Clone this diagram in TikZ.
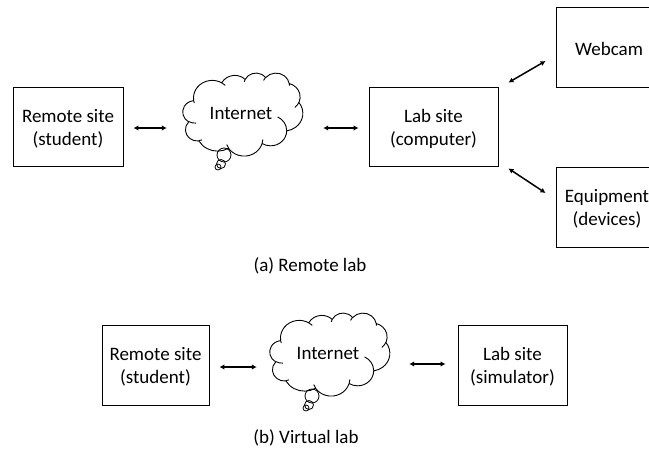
\documentclass[tikz,border=0pt]{standalone}
\usepackage{fontspec}
\setmainfont{Carlito}
\usetikzlibrary{arrows.meta}

% one elliptic arc of the cloud outline: x radius, y radius,
% start angle and sweep, the angles measured as seen from the centre
\newcommand\carc[4]{arc[x radius=#1, y radius=#2,
  start angle={atan2((#1)*sin(#3),(#2)*cos(#3))},
  delta angle={mod(atan2((#1)*sin((#3)+(#4)),(#2)*cos((#3)+(#4)))-atan2((#1)*sin(#3),(#2)*cos(#3))+720,360)}]}

% cloud outline with its creases, filling the frame of node #1
% (frame drawn on a 432 x 432 grid, y pointing down)
\newcommand\cloudshape[1]{%
  \begin{scope}[shift={(#1.north west)}, x=0.27778pt, y=-0.19213pt,
                line width=0.9pt, line join=round]
    \draw (39,143.70) \carc{67.53}{91.90}{-190.487}{123.781}
      \carc{53.33}{72.67}{-144.102}{89.945}
      \carc{43.65}{59.45}{-145.808}{99.723}
      \carc{48.57}{65.95}{-130.986}{117.242}
      \carc{53.33}{72.73}{-78.709}{109.027}
      \carc{67.75}{92.20}{-46.267}{130.269}
      \carc{57.85}{78.67}{0.625}{114.033}
      \carc{67.52}{92.15}{22.452}{115.173}
      \carc{77.20}{105.43}{66.243}{75.711}
      \carc{43.60}{59.18}{-274.942}{146.736}
      \carc{43.45}{59.45}{-246.829}{152.519} -- cycle;
    \draw (46.93,261.77) \carc{43.45}{59.45}{86.742}{26.430}
      (69.28,348.99) \carc{43.60}{59.18}{73.610}{11.447}
      (164.78,390.90) \carc{67.52}{92.15}{137.624}{14.081}
      (288.27,347.51) \carc{67.52}{92.15}{6.453}{15.998}
      (341.29,229.54) \carc{57.85}{78.67}{-70.292}{70.917}
      (417.98,153.54) \carc{53.33}{72.73}{30.318}{27.752}
      (383.24,54.26) \carc{48.57}{65.95}{-13.744}{14.859}
      (290.78,39.52) \carc{48.57}{65.95}{-149.181}{18.195}
      (221.41,47.20) \carc{43.65}{59.45}{-163.494}{17.686}
      (140.00,51.92) \carc{67.53}{91.90}{-66.707}{12.319}
      (41.27,157.89) \carc{67.53}{91.90}{157.654}{11.858};
  \end{scope}}

\tikzset{
  box/.style={draw, line width=0.9pt, inner sep=0pt},
  boxtext/.style={align=center, inner sep=0pt, font=\fontsize{19}{23}\selectfont},
  cloudframe/.style={inner sep=0pt, minimum width=120pt, minimum height=83pt},
  bubble/.style={draw, circle, line width=0.8pt, inner sep=0pt},
  biarrow/.style={line width=1.5pt,
              {Latex[length=5pt,width=5.5pt]}-{Latex[length=5pt,width=5.5pt]}},
  caption/.style={font=\fontsize{19}{23}\selectfont}
}
\begin{document}
\begin{tikzpicture}[x=1pt,y=-1pt]
\useasboundingbox (0,0) rectangle (649,459);

% (a) remote lab
\node[box, minimum width=110pt, minimum height=79pt] (rsA) at (68,126.5) {};
\node[boxtext] (rsAt) at ([shift={(0,2.5)}]rsA.center) {Remote site\\(student)};
\node[cloudframe] (clA) at (243,114.5) {};
\cloudshape{clA}
\node[boxtext] (txA) at (241,113) {Internet};
\node[bubble, minimum size=14pt] (bA1) at (224,155) {};
\node[bubble, minimum size=9pt] (bA2) at (221,164) {};
\node[bubble, minimum size=6pt] (bA3) at (218,167) {};
\node[box, minimum width=129pt, minimum height=79pt] (labA) at (433.5,126.5) {};
\node[boxtext] (labAt) at ([shift={(0,2.5)}]labA.center) {Lab site\\(computer)};
\node[box, minimum width=106pt, minimum height=80pt] (web) at (609,47) {};
\node[boxtext] (webt) at ([shift={(0,1.5)}]web.center) {Webcam};
\node[box, minimum width=102pt, minimum height=80pt] (eq) at (607,207) {};
\node[boxtext] (eqt) at ([shift={(0,2)}]eq.center) {Equipment\\(devices)};
\node[caption] (capA) at (310,266) {(a) Remote lab};

\draw[biarrow] ([shift={(10,1.5)}]rsA.east) -- ([shift={(-16,1.5)}]rsA.east -| clA.west);
\draw[biarrow] ([shift={(20,13.5)}]clA.east) -- ([shift={(-10,1.5)}]labA.west);
\draw[biarrow] ([shift={(10,-4)}]labA.north east) -- ([shift={(-10,14)}]web.west);
\draw[biarrow] ([shift={(10,2)}]labA.south east) -- ([shift={(-10,-14)}]eq.west);

% (b) virtual lab
\node[box, minimum width=107pt, minimum height=80pt] (rsB) at (155.5,365) {};
\node[boxtext] (rsBt) at ([shift={(0,2)}]rsB.center) {Remote site\\(student)};
\node[cloudframe] (clB) at (330,354.5) {};
\cloudshape{clB}
\node[boxtext] (txB) at (328,353) {Internet};
\node[bubble, minimum size=14pt] (bB1) at (312,396) {};
\node[bubble, minimum size=9pt] (bB2) at (309,405) {};
\node[bubble, minimum size=6pt] (bB3) at (306,408) {};
\node[box, minimum width=109pt, minimum height=80pt] (labB) at (512.5,365) {};
\node[boxtext] (labBt) at ([shift={(0,2)}]labB.center) {Lab site\\(simulator)};
\node[caption] (capB) at (306,438) {(b) Virtual lab};

\draw[biarrow] ([shift={(10,2)}]rsB.east) -- ([shift={(-13,2)}]rsB.east -| clB.west);
\draw[biarrow] ([shift={(19,-1)}]labB.west -| clB.east) -- ([shift={(-12,-1)}]labB.west);
\end{tikzpicture}
\end{document}
